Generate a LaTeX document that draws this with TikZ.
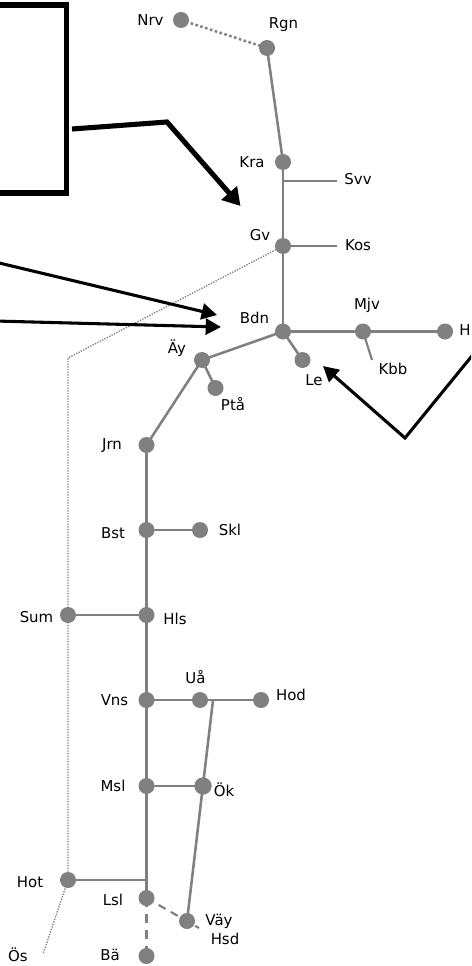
\documentclass[tikz,border=0pt]{standalone}
\usepackage{fontspec}
\setmainfont{DejaVu Sans}
\usetikzlibrary{arrows.meta}
\definecolor{tg}{HTML}{808080}
\tikzset{
  stn/.style={circle,fill=tg,inner sep=0pt,minimum size=12pt},
  lab/.style={inner sep=0pt,font=\fontsize{11.2pt}{13pt}\selectfont,text=black},
  main/.style={draw=tg,line width=2.2pt},
  mid line/.style={draw=tg,line width=1.9pt},
  thin branch/.style={draw=tg,line width=1.6pt},
  dash line/.style={draw=tg,line width=2.2pt,dash pattern=on 7pt off 5pt},
  dot big/.style={draw=tg,line width=1.9pt,dash pattern=on 1.9pt off 1.9pt},
  dot small/.style={draw=tg,line width=1pt,dash pattern=on 1pt off 1pt},
  call big/.style={draw=black,line width=3.8pt,line join=miter,-{Triangle[length=13pt,width=15pt]}},
  call mid/.style={draw=black,line width=2.3pt,line join=miter,-{Triangle[length=11.5pt,width=12pt]}},
  frame/.style={draw=black,line width=4pt,line join=miter}
}
\begin{document}
\begin{tikzpicture}[x=0.75pt,y=-0.75pt]
\path[use as bounding box] (0,0) rectangle (471,966);
\clip (0,0) rectangle (471,966);
\fill[white] (0,0) rectangle (471,966);
% free ends
\coordinate (svvE) at (337,181); \coordinate (svvS) at (283,181);
\coordinate (kosE) at (337,246);
\coordinate (kbbE) at (372,360);
\coordinate (brU) at (213,700);
\coordinate (hotE) at (146.5,880);
\coordinate (dotC) at (68,358);
\coordinate (osE) at (43,954);
\coordinate (hsdE) at (199,928);
\coordinate (fa) at (-10,5); \coordinate (fb) at (66.5,5); \coordinate (fc) at (66.5,193); \coordinate (fd) at (-10,193);
\coordinate (a1) at (72,129); \coordinate (a2) at (167,122); \coordinate (a3) at (240.5,206);
\coordinate (b1) at (-5,262); \coordinate (b2) at (217,315);
\coordinate (c1) at (-5,321); \coordinate (c2) at (221,327);
\coordinate (d1) at (480,346); \coordinate (d2) at (405,438); \coordinate (d3) at (323,366);
% stations
\foreach \n/\x/\y in {Nrv/181/20,Rgn/267/48,Kra/283/162,Gv/283/246,Bdn/283/331.5,Mjv/363/331.5,H/445/331.5,Le/302.5/360,Ay/202/360,Pta/215.5/388,Jrn/146.5/445,Bst/146.5/530,Skl/200/530,Sum/68/615,Hls/146.5/615,Vns/146.5/700,Ua/200/700,Hod/261/700,Msl/146.5/786,Lsl/146.5/898,Vay/187/921,Ba/146.5/956,Hot/68/880}
  {\coordinate (p\n) at (\x,\y);}
\coordinate (pOk) at (203,786);
% connectors
\draw[dot small] (pGv) -- (dotC) -- (pHot) -- (osE);
\draw[dot big] (pNrv) -- (pRgn);
\draw[mid line] (pRgn) -- (pKra);
\draw[main] (pKra) -- (pGv) -- (pBdn) -- (pMjv) -- (pH);
\draw[mid line] (pBdn) -- (pAy) -- (pJrn);
\draw[main] (pJrn) -- (pBst) -- (pHls) -- (pVns) -- (pMsl) -- (pLsl);
\draw[mid line] (pBdn) -- (pLe);
\draw[mid line] (pAy) -- (pPta);
\draw[main] (pBst) -- (pSkl);
\draw[main] (pSum) -- (pHls);
\draw[main] (pVns) -- (pUa) -- (pHod);
\draw[main] (pMsl) -- (pOk);
\draw[main] (pHot) -- (hotE);
\draw[thin branch] (svvS) -- (svvE);
\draw[thin branch] (pGv) -- (kosE);
\draw[thin branch] (pMjv) -- (kbbE);
\draw[mid line] (brU) -- (pVay);
\draw[dash line] (pLsl) -- (pBa);
\draw[draw=tg,line width=1.6pt,dash pattern=on 6pt off 4.5pt] (pLsl) -- (hsdE);
\foreach \n in {Nrv,Rgn,Kra,Gv,Bdn,Mjv,H,Le,Ay,Pta,Jrn,Bst,Skl,Sum,Hls,Vns,Ua,Hod,Msl,Lsl,Vay,Ba,Hot}
  {\node[stn] (s\n) at (p\n) {};}
\node[stn,minimum size=13pt] (sOk) at (pOk) {};
% labels
\foreach \t/\x/\y in {Nrv/150.5/20,Rgn/283.5/25,Kra/252/162,Svv/358/179,Gv/260/235,Kos/358/245,Bdn/254.5/318,Mjv/367/305,Äy/177/348,Le/314/380,Kbb/393/369,Ptå/233/404,Jrn/112/446,Bst/113/533,Skl/230/530,Sum/36.5/617,Hls/175/619,Vns/114.5/700,Uå/195.5/677,Hod/291/695,Msl/113/786,Ök/224/790,Hot/30/882,Lsl/113/900,Väy/219/921,Hsd/225/939,Ös/18/955,Bä/110/955}
  {\node[lab] (l\t) at (\x,\y) {\t};}
\node[lab,anchor=west] (lH) at (459,330) {H};
% callouts
\draw[frame] (fa) -- (fb) -- (fc) -- (fd);
\draw[call big] (a1) -- (a2) -- (a3);
\draw[call mid] (b1) -- (b2);
\draw[call mid] (c1) -- (c2);
\draw[call mid] (d1) -- (d2) -- (d3);
\end{tikzpicture}
\end{document}
